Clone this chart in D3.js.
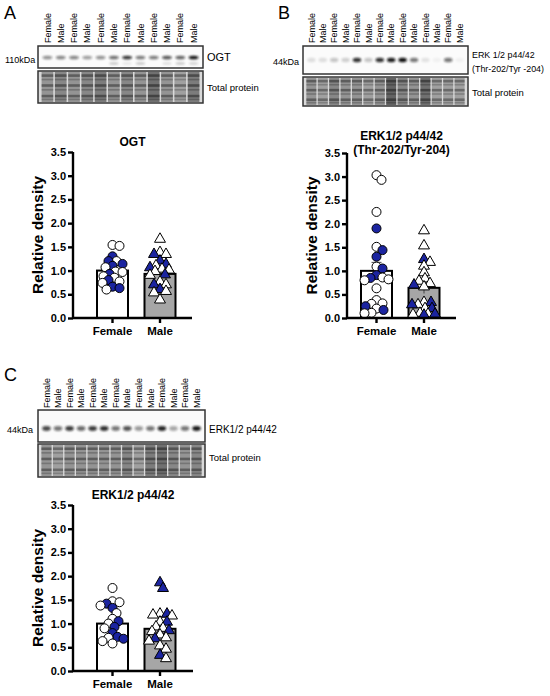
<!DOCTYPE html>
<html>
<head>
<meta charset="utf-8">
<script src="https://cdn.jsdelivr.net/npm/d3@7"></script>
<style>
  body { margin: 0; background: #fff; }
  svg { font-family: Arial, "Liberation Sans", sans-serif; }
</style>
</head>
<body>
<div id="vis"></div>
<script>
  // ---- data ----
  const groups = ['Female', 'Male']
  const yTicks = [0, 0.5, 1, 1.5, 2, 2.5, 3, 3.5]

  // OGT
  const ogtFemaleOpen = [1.54, 1.52, 1.20, 1.07, 0.98, 0.97, 0.88, 0.85, 0.77, 0.74, 0.60]
  const ogtFemaleBlue = [1.30, 1.20, 1.14, 1.10, 0.93, 0.80, 0.66, 0.63]
  const ogtMaleOpen = [1.68, 1.40, 1.36, 1.12, 1.05, 1.03, 1.00, 0.92, 0.78, 0.72, 0.58, 0.55, 0.40]
  const ogtMaleBlue = [1.36, 1.22, 1.15, 1.08, 0.93, 0.72, 0.62]
  const ogtMean = [1.00, 0.93]
  const ogtSem = [0.06, 0.07]

  // ERK1/2 p44/42 (Thr-202/Tyr-204)
  const pErkFemaleOpen = [3.03, 2.93, 2.25, 1.51, 1.09, 0.86, 0.82, 0.80, 0.63, 0.38, 0.31, 0.30, 0.20, 0.11, 0.10]
  const pErkFemaleBlue = [1.90, 1.44, 1.30, 1.05, 0.91, 0.85, 0.25, 0.17]
  const pErkMaleOpen = [1.87, 1.55, 1.20, 1.12, 0.98, 0.85, 0.80, 0.75, 0.68, 0.35, 0.30, 0.22, 0.12, 0.10, 0.09]
  const pErkMaleBlue = [1.26, 0.72, 0.35, 0.30, 0.22, 0.10, 0.08]
  const pErkMean = [1.00, 0.64]
  const pErkSem = [0.18, 0.12]

  // ERK1/2 p44/42 total
  const erkFemaleOpen = [1.75, 1.47, 1.45, 1.38, 1.22, 1.10, 1.00, 0.90, 0.70, 0.63, 0.58]
  const erkFemaleBlue = [1.42, 1.33, 1.05, 0.93, 0.80, 0.72, 0.68]
  const erkMaleOpen = [1.22, 1.20, 1.18, 1.05, 0.95, 0.92, 0.85, 0.78, 0.72, 0.65, 0.55, 0.48, 0.28]
  const erkMaleBlue = [1.88, 1.76, 1.22, 1.05, 0.87, 0.70, 0.35]
  const erkMean = [1.00, 0.89]
  const erkSem = [0.07, 0.09]

  // blot lanes and band darkness (0..1)
  const lanesA = d3.range(12).map(i => i % 2 ? 'Male' : 'Female')
  const lanesBC = d3.range(14).map(i => i % 2 ? 'Male' : 'Female')
  const ogtBand = [0.45, 0.5, 0.5, 0.4, 0.45, 0.6, 0.85, 0.55, 0.55, 0.7, 0.65, 1.0]
  const ogtLowerBand = [0, 0, 0, 0, 0, 0.25, 0.1, 0.25, 0, 0.15, 0.25, 0.2]
  const pErkBand = [0.12, 0.12, 0.22, 0.18, 0.85, 0.22, 0.85, 0.95, 1.0, 0.55, 0.1, 0.04, 0.55, 0.04]
  const erkBand = [0.75, 0.55, 0.8, 0.6, 0.8, 0.85, 0.55, 0.7, 0.4, 0.55, 0.9, 0.35, 0.55, 0.95]
  const totalA = [0.6, 0.65, 0.6, 0.65, 0.7, 0.6, 0.65, 0.6, 0.75, 0.6, 0.55, 0.7]
  const totalB = [0.6, 0.55, 0.65, 0.6, 0.6, 0.55, 0.6, 0.8, 0.65, 0.6, 0.75, 0.55, 0.55, 0.55]
  const totalC = [0.6, 0.55, 0.6, 0.6, 0.6, 0.6, 0.6, 0.65, 0.55, 0.7, 0.75, 0.65, 0.6, 0.65]

  const blue = '#1b24a0'
  const maleFill = '#a6a6a6'

  const svg = d3.select('#vis').append('svg')
    .attr('width', 550)
    .attr('height', 696)

  const defs = svg.append('defs')
  defs.append('filter').attr('id', 'blur').attr('x', '-50%').attr('y', '-100%').attr('width', '200%').attr('height', '300%')
    .append('feGaussianBlur').attr('stdDeviation', '1.2 0.9')
  defs.append('filter').attr('id', 'blurSoft').attr('x', '-20%').attr('y', '-20%').attr('width', '140%').attr('height', '140%')
    .append('feGaussianBlur').attr('stdDeviation', 0.7)

  // panel letters
  svg.append('text').attr('x', 4).attr('y', 19).attr('font-size', 18).text('A')
  svg.append('text').attr('x', 278).attr('y', 19).attr('font-size', 18).text('B')
  svg.append('text').attr('x', 4).attr('y', 381).attr('font-size', 18).text('C')

  // ---- blots ----
  function drawBlot(o) {
    const g = svg.append('g')
    const x = d3.scaleBand().domain(d3.range(o.lanes.length)).range([o.x0 + 2, o.x1 - 2]).padding(0.12)

    // lane labels
    g.selectAll('text.lane').data(o.lanes).enter().append('text')
      .attr('class', 'lane')
      .attr('transform', (d, i) => 'translate(' + (x(i) + x.bandwidth() / 2 + 3.2) + ',' + o.labelY + ') rotate(-90)')
      .attr('font-size', 9)
      .text(d => d)

    // protein band box
    g.append('rect').attr('x', o.x0).attr('y', o.y0).attr('width', o.x1 - o.x0).attr('height', o.y1 - o.y0)
      .attr('fill', '#fbfbfb')
    g.selectAll('ellipse.band').data(o.band).enter().append('ellipse')
      .attr('cx', (d, i) => x(i) + x.bandwidth() / 2)
      .attr('cy', o.bandY)
      .attr('rx', x.bandwidth() * 0.42)
      .attr('ry', o.bandH)
      .attr('fill', '#111')
      .attr('opacity', d => d)
      .attr('filter', 'url(#blur)')
    if (o.lower) {
      g.selectAll('ellipse.lower').data(o.lower).enter().append('ellipse')
        .attr('cx', (d, i) => x(i) + x.bandwidth() / 2)
        .attr('cy', o.bandY + 6)
        .attr('rx', x.bandwidth() * 0.4)
        .attr('ry', 1.2)
        .attr('fill', '#222')
        .attr('opacity', d => d)
        .attr('filter', 'url(#blur)')
    }
    g.append('rect').attr('x', o.x0).attr('y', o.y0).attr('width', o.x1 - o.x0).attr('height', o.y1 - o.y0)
      .attr('fill', 'none').attr('stroke', '#333').attr('stroke-width', 1.5)

    // total protein box
    g.append('rect').attr('x', o.x0).attr('y', o.t0).attr('width', o.x1 - o.x0).attr('height', o.t1 - o.t0)
      .attr('fill', '#d9d9d9')
    const tg = g.append('g').attr('filter', 'url(#blurSoft)')
    tg.selectAll('rect.lane').data(o.total).enter().append('rect')
      .attr('x', (d, i) => x(i))
      .attr('y', o.t0 + 1)
      .attr('width', x.bandwidth())
      .attr('height', o.t1 - o.t0 - 2)
      .attr('fill', d => d3.interpolateGreys(d * 0.85))
    const rows = [0.14, 0.28, 0.45, 0.6, 0.78, 0.9]
    o.total.forEach((d, i) => {
      rows.forEach((r, j) => {
        tg.append('rect')
          .attr('x', x(i))
          .attr('y', o.t0 + r * (o.t1 - o.t0) - 1.2)
          .attr('width', x.bandwidth())
          .attr('height', j % 2 ? 1.6 : 2.6)
          .attr('fill', '#2a2a2a')
          .attr('opacity', d * (j % 2 ? 0.5 : 0.85))
      })
    })
    g.append('rect').attr('x', o.x0).attr('y', o.t0).attr('width', o.x1 - o.x0).attr('height', o.t1 - o.t0)
      .attr('fill', 'none').attr('stroke', '#333').attr('stroke-width', 1.5)

    // side labels
    g.append('text').attr('x', o.kdaX).attr('y', o.kdaY).attr('font-size', 9).text(o.kda)
    o.name.forEach((t, i) => {
      g.append('text').attr('x', o.x1 + 4).attr('y', o.nameY + i * 14).attr('font-size', o.nameSize).text(t)
    })
    g.append('text').attr('x', o.x1 + 4).attr('y', o.totalY).attr('font-size', 9.5).text('Total protein')
  }

  drawBlot({lanes: lanesA, x0: 38, x1: 203, labelY: 43, y0: 46, y1: 68, bandY: 57.5, bandH: 1.8,
    band: ogtBand, lower: ogtLowerBand, t0: 71, t1: 103, total: totalA,
    kda: '110kDa', kdaX: 5, kdaY: 63, name: ['OGT'], nameY: 61, nameSize: 11, totalY: 91})

  drawBlot({lanes: lanesBC, x0: 303, x1: 468, labelY: 43, y0: 46, y1: 74, bandY: 60, bandH: 2.2,
    band: pErkBand, t0: 77, t1: 106, total: totalB,
    kda: '44kDa', kdaX: 273, kdaY: 65, name: ['ERK 1/2 p44/42', '(Thr-202/Tyr -204)'], nameY: 58, nameSize: 8.9, totalY: 96})

  drawBlot({lanes: lanesBC, x0: 38, x1: 205, labelY: 408, y0: 410, y1: 442, bandY: 428.5, bandH: 2.4,
    band: erkBand, t0: 444, t1: 477, total: totalC,
    kda: '44kDa', kdaX: 7, kdaY: 433, name: ['ERK1/2 p44/42'], nameY: 433, nameSize: 10, totalY: 461})

  // ---- bar + scatter charts ----
  function swarm(points, y, cx, maxOff, minD) {
    const placed = []
    points.slice().sort((a, b) => b.v - a.v).forEach(p => {
      const py = y(p.v)
      let best = 0, bestScore = -1
      for (let k = 0; k <= maxOff * 2; k++) {
        const off = k % 2 ? (k + 1) / 2 : -k / 2
        let dmin = Infinity
        placed.forEach(q => { dmin = Math.min(dmin, Math.hypot(q.x - (cx + off), q.y - py)) })
        if (dmin >= minD) { best = off; bestScore = Infinity; break }
        if (dmin > bestScore) { bestScore = dmin; best = off }
      }
      placed.push({x: cx + best, y: py, blue: p.blue})
    })
    return placed
  }

  function drawChart(o) {
    const g = svg.append('g')
    const y = d3.scaleLinear().domain([0, 3.5]).range([o.yBottom, o.yTop])
    const x = d3.scaleBand().domain(groups).range([o.barStart, o.barStart + 31 * 2 + 16.5]).paddingInner(16.5 / 47.5).paddingOuter(0)

    // bars
    g.selectAll('rect.bar').data(o.mean).enter().append('rect')
      .attr('x', (d, i) => x(groups[i]))
      .attr('y', d => y(d))
      .attr('width', x.bandwidth())
      .attr('height', d => y(0) - y(d))
      .attr('fill', (d, i) => i ? maleFill : '#fff')
      .attr('stroke', '#000')
      .attr('stroke-width', 2)

    // error bars
    o.mean.forEach((m, i) => {
      const cx = x(groups[i]) + x.bandwidth() / 2
      g.append('line').attr('x1', cx).attr('x2', cx).attr('y1', y(m - o.sem[i])).attr('y2', y(m + o.sem[i]))
        .attr('stroke', '#444').attr('stroke-width', 1)
      g.append('line').attr('x1', cx - 5).attr('x2', cx + 5).attr('y1', y(m + o.sem[i])).attr('y2', y(m + o.sem[i]))
        .attr('stroke', '#444').attr('stroke-width', 1)
    })

    // points
    const fPts = o.fOpen.map(v => ({v, blue: false})).concat(o.fBlue.map(v => ({v, blue: true})))
    const mPts = o.mOpen.map(v => ({v, blue: false})).concat(o.mBlue.map(v => ({v, blue: true})))
    const fPlaced = swarm(fPts, y, x('Female') + x.bandwidth() / 2, 12, 6.2)
    const mPlaced = swarm(mPts, y, x('Male') + x.bandwidth() / 2, 12, 6.2)

    g.selectAll('circle.pt').data(fPlaced).enter().append('circle')
      .attr('cx', d => d.x).attr('cy', d => d.y).attr('r', 4.5)
      .attr('fill', d => d.blue ? blue : '#fff')
      .attr('stroke', '#000').attr('stroke-width', 1)

    g.selectAll('path.pt').data(mPlaced).enter().append('path')
      .attr('d', d3.symbol(d3.symbolTriangle, 52))
      .attr('transform', d => 'translate(' + d.x + ',' + (d.y + 0.8) + ')')
      .attr('fill', d => d.blue ? blue : '#fff')
      .attr('stroke', '#000').attr('stroke-width', 1)

    // y axis
    const yAxis = g.append('g')
      .attr('transform', 'translate(' + o.axisX + ',0)')
      .call(d3.axisLeft(y).tickValues(yTicks).tickFormat(d3.format('.1f')).tickSize(5).tickPadding(2))
    yAxis.select('.domain').attr('stroke-width', 2.4).attr('d', 'M0,' + o.yTop + 'V' + o.yBottom)
    yAxis.selectAll('.tick line').attr('stroke-width', 2.4)
    yAxis.selectAll('.tick text').attr('font-size', 11).attr('font-weight', 'bold').attr('fill', '#000')
      .attr('font-family', 'Arial, "Liberation Sans", sans-serif')

    // x axis
    const xAxis = g.append('g')
      .attr('transform', 'translate(0,' + o.yBottom + ')')
      .call(d3.axisBottom(x).tickSize(5).tickPadding(4))
    xAxis.select('.domain').attr('stroke-width', 2.4).attr('d', 'M' + o.axisX + ',0H' + o.xEnd)
    xAxis.selectAll('.tick line').attr('stroke-width', 2.4)
    xAxis.selectAll('.tick text').attr('font-size', 11.5).attr('font-weight', 'bold').attr('fill', '#000')
      .attr('font-family', 'Arial, "Liberation Sans", sans-serif')

    // y label
    g.append('text')
      .attr('transform', 'translate(' + (o.axisX - 30) + ',' + ((o.yTop + o.yBottom) / 2) + ') rotate(-90)')
      .attr('text-anchor', 'middle')
      .attr('font-size', 15.5).attr('font-weight', 'bold')
      .text('Relative density')

    // title
    const tx = (o.axisX + o.xEnd) / 2
    o.title.forEach((t, i) => {
      g.append('text').attr('x', tx).attr('y', o.titleY + i * 14)
        .attr('text-anchor', 'middle').attr('font-size', 12).attr('font-weight', 'bold').text(t)
    })
  }

  drawChart({axisX: 73, barStart: 97, xEnd: 192, yTop: 152, yBottom: 318, title: ['OGT'], titleY: 146,
    fOpen: ogtFemaleOpen, fBlue: ogtFemaleBlue, mOpen: ogtMaleOpen, mBlue: ogtMaleBlue, mean: ogtMean, sem: ogtSem})

  drawChart({axisX: 347, barStart: 361, xEnd: 456, yTop: 153, yBottom: 318, title: ['ERK1/2 p44/42', '(Thr-202/Tyr-204)'], titleY: 140,
    fOpen: pErkFemaleOpen, fBlue: pErkFemaleBlue, mOpen: pErkMaleOpen, mBlue: pErkMaleBlue, mean: pErkMean, sem: pErkSem})

  drawChart({axisX: 73, barStart: 97, xEnd: 193, yTop: 505, yBottom: 671, title: ['ERK1/2 p44/42'], titleY: 499,
    fOpen: erkFemaleOpen, fBlue: erkFemaleBlue, mOpen: erkMaleOpen, mBlue: erkMaleBlue, mean: erkMean, sem: erkSem})
</script>
</body>
</html>
